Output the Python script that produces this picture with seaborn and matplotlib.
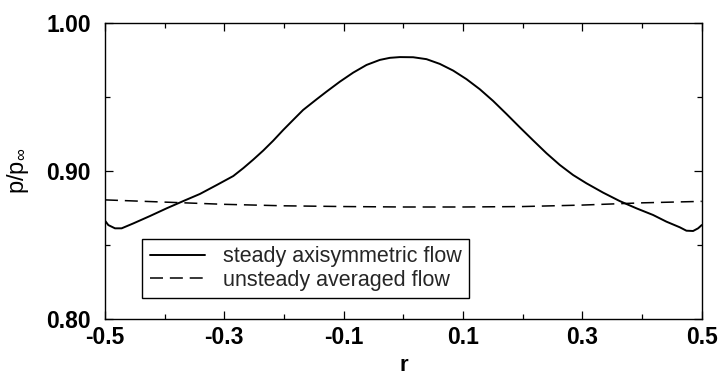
import matplotlib
matplotlib.use("Agg")
import matplotlib.pyplot as plt
from matplotlib.ticker import FixedLocator
import seaborn as sns
import pandas as pd

# Radial pressure distribution, p / p_inf versus r
r_steady = [-0.5000, -0.4944, -0.4832, -0.4721, -0.4526, -0.4246, -0.3967,
            -0.3688, -0.3409, -0.3129, -0.2850, -0.2680, -0.2515, -0.2348,
            -0.2180, -0.2013, -0.1846, -0.1680, -0.1454, -0.1287, -0.1064,
            -0.0841, -0.0617, -0.0394, -0.0226, -0.0059, 0.0164, 0.0388,
            0.0611, 0.0834, 0.1058, 0.1281, 0.1504, 0.1728, 0.1951, 0.2174,
            0.2398, 0.2621, 0.2844, 0.3068, 0.3347, 0.3626, 0.3906, 0.4185,
            0.4408, 0.4632, 0.4743, 0.4855, 0.4939, 0.5000]
p_steady = [0.8665, 0.8635, 0.8613, 0.8613, 0.8646, 0.8696, 0.8748,
            0.8797, 0.8845, 0.8905, 0.8966, 0.9020, 0.9077, 0.9138,
            0.9205, 0.9277, 0.9345, 0.9412, 0.9484, 0.9536, 0.9603,
            0.9664, 0.9716, 0.9750, 0.9764, 0.9769, 0.9768, 0.9755,
            0.9723, 0.9678, 0.9620, 0.9552, 0.9473, 0.9385, 0.9295, 0.9207,
            0.9120, 0.9041, 0.8973, 0.8917, 0.8854, 0.8797, 0.8748, 0.8703,
            0.8658, 0.8620, 0.8597, 0.8595, 0.8613, 0.8635]

r_unsteady = [-0.5, -0.4, -0.3, -0.2, -0.1, 0.0, 0.1, 0.2, 0.3, 0.4, 0.5]
p_unsteady = [0.8805, 0.8790, 0.8775, 0.8765, 0.8760, 0.8757, 0.8757,
              0.8760, 0.8770, 0.8785, 0.8795]

labels = ["steady axisymmetric flow", "unsteady averaged flow"]
x_ticks = [-0.5, -0.3, -0.1, 0.1, 0.3, 0.5]
y_ticks = [0.80, 0.90, 1.00]

sns.set_theme(style="ticks")
plt.rcParams["font.family"] = ["Liberation Sans", "DejaVu Sans"]
plt.rcParams["mathtext.default"] = "regular"

steady = pd.DataFrame({"r": r_steady, "p": p_steady})
unsteady = pd.DataFrame({"r": r_unsteady, "p": p_unsteady})

fig = plt.figure(figsize=(7.19, 3.75), dpi=100)
ax = fig.add_axes([0.146, 0.149, 0.830, 0.790])

sns.lineplot(data=steady, x="r", y="p", ax=ax, color="black", lw=1.4,
             sort=False, label=labels[0])
sns.lineplot(data=unsteady, x="r", y="p", ax=ax, color="black", lw=1.1,
             linestyle=(0, (8.5, 4.5)), sort=False, label=labels[1])

ax.set_xlim(-0.5, 0.5)
ax.set_ylim(0.80, 1.00)
ax.xaxis.set_major_locator(FixedLocator(x_ticks))
ax.xaxis.set_minor_locator(FixedLocator([-0.4, -0.2, 0.0, 0.2, 0.4]))
ax.yaxis.set_major_locator(FixedLocator(y_ticks))
ax.yaxis.set_minor_locator(FixedLocator([0.85, 0.95]))
ax.set_xticklabels([f"{v:.1f}" for v in x_ticks], fontweight="bold")
ax.set_yticklabels([f"{v:.2f}" for v in y_ticks], fontweight="bold")

ax.tick_params(which="both", direction="in", top=True, right=True,
               colors="black", width=0.9, labelsize=16.5)
ax.tick_params(which="major", length=6)
ax.tick_params(which="minor", length=3.5)
ax.tick_params(axis="x", which="major", pad=5)
ax.tick_params(axis="y", which="major", pad=10)
for s in ax.spines.values():
    s.set_color("black")
    s.set_linewidth(1.0)

ax.set_xlabel("r", fontsize=16, fontweight="bold", color="black", labelpad=4)
ax.set_ylabel(r"p/p$_{\infty}$", fontsize=17, color="black")
ax.yaxis.set_label_coords(-0.124, 0.5)

leg = ax.legend(loc="lower left", bbox_to_anchor=(0.062, 0.071),
                borderaxespad=0, fontsize=15.5, frameon=True, fancybox=False,
                edgecolor="black", framealpha=1, handlelength=2.6,
                handletextpad=0.8, borderpad=0.35, labelspacing=0.1)
leg.get_frame().set_linewidth(1.0)

fig.savefig("out.png", dpi=100)
